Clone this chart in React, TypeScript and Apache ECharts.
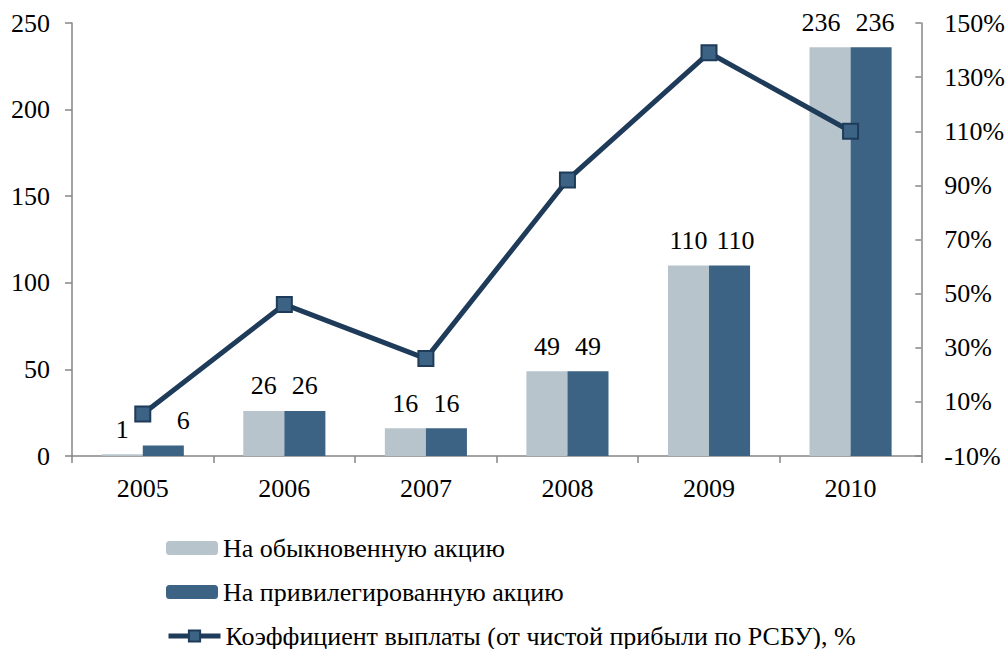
import React, { useEffect, useRef } from "react";
import * as echarts from "echarts";

const years = ["2005", "2006", "2007", "2008", "2009", "2010"];
const ordinary = [1, 26, 16, 49, 110, 236];
const preferred = [6, 26, 16, 49, 110, 236];
const payoutRatio = [5.5, 46, 26, 92, 139, 110];
const pctAxisMin = -10;
const pctAxisMax = 150;
const pctInterval = 20;

const seriesNames = [
  "На обыкновенную акцию",
  "На привилегированную акцию",
  "Коэффициент выплаты (от чистой прибыли по РСБУ), %",
];

// horizontal nudges of individual value labels (as placed in the original)
const ordinaryLabelNudge = [0, 0, 0, 0, 0, -9];
const preferredLabelNudge = [20, 0, 0, 0, 6, 4];

const FONT = "'Liberation Serif', 'Times New Roman', serif";
const FS = 26;

export default function App() {
  const ref = useRef<HTMLDivElement>(null);
  useEffect(() => {
    if (!ref.current) return;
    const chart = echarts.init(ref.current, undefined, { renderer: "svg" });
    // shift percentage axis so its ticks start at zero (ECharts counts ticks from min)
    const shift = -pctAxisMin;
    const axisLineColor = "#868686";
    const legendBase = {
      orient: "horizontal",
      left: 161,
      itemWidth: 52,
      itemHeight: 14,
      textStyle: { fontFamily: FONT, fontSize: 26, color: "#000" },
    };
    const labelBase = { show: true, position: "top", distance: 12, color: "#000", fontSize: FS, fontFamily: FONT };
    chart.setOption({
      animation: false,
      textStyle: { fontFamily: FONT },
      grid: { left: 72, right: 84, top: 23, bottom: 193 },
      legend: [
        { ...legendBase, top: 530, data: [seriesNames[0]] },
        { ...legendBase, top: 574, data: [seriesNames[1]] },
        {
          ...legendBase,
          top: 618,
          data: [seriesNames[2]],
          lineStyle: { width: 5, color: "#1F3B5A" },
        },
      ],
      xAxis: {
        type: "category",
        data: years,
        axisLine: { lineStyle: { color: axisLineColor, width: 1.5 } },
        axisTick: { show: true, length: 7, lineStyle: { color: axisLineColor, width: 1.5 } },
        axisLabel: { color: "#000", fontSize: FS, fontFamily: FONT, margin: 19 },
      },
      yAxis: [
        {
          type: "value",
          min: 0,
          max: 250,
          interval: 50,
          splitLine: { show: false },
          axisLine: { show: true, lineStyle: { color: axisLineColor, width: 1.5 } },
          axisTick: { show: true, length: 7, lineStyle: { color: axisLineColor, width: 1.5 } },
          axisLabel: { color: "#000", fontSize: FS, fontFamily: FONT, margin: 22 },
        },
        {
          type: "value",
          position: "right",
          min: pctAxisMin + shift,
          max: pctAxisMax + shift,
          interval: pctInterval,
          splitLine: { show: false },
          axisLine: { show: true, lineStyle: { color: axisLineColor, width: 1.5 } },
          axisTick: { show: true, inside: true, length: 6, lineStyle: { color: axisLineColor, width: 1.5 } },
          axisLabel: {
            color: "#000",
            fontSize: FS,
            fontFamily: FONT,
            margin: 23,
            formatter: (v: number) => `${Math.round(v - shift)}%`,
          },
        },
      ],
      series: [
        {
          name: seriesNames[0],
          type: "bar",
          data: ordinary.map((v, i) => ({ value: v, label: { offset: [ordinaryLabelNudge[i], 0] } })),
          barGap: "0%",
          barCategoryGap: "42%",
          itemStyle: { color: "#B7C4CC" },
          label: labelBase,
        },
        {
          name: seriesNames[1],
          type: "bar",
          data: preferred.map((v, i) => ({ value: v, label: { offset: [preferredLabelNudge[i], 0] } })),
          itemStyle: { color: "#3D6384" },
          label: labelBase,
        },
        {
          name: seriesNames[2],
          type: "line",
          yAxisIndex: 1,
          data: payoutRatio.map((v) => v + shift),
          symbol: "rect",
          symbolSize: 15,
          lineStyle: { color: "#1F3B5A", width: 5 },
          itemStyle: { color: "#3D6384", borderColor: "#1F3B5A", borderWidth: 2 },
          z: 5,
        },
      ],
    });
    return () => chart.dispose();
  }, []);
  return (
    <div
      ref={ref}
      style={{ position: "absolute", left: 0, top: 0, width: 1008, height: 649 }}
    />
  );
}
